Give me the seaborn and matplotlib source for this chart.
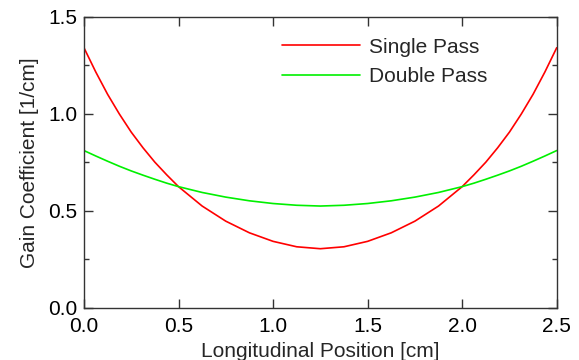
import seaborn as sns
import matplotlib.pyplot as plt
import numpy as np
import pandas as pd

# longitudinal positions (half profile, mirrored about 1.25 cm)
half_x = [0.0, 0.0625, 0.125, 0.1875, 0.25, 0.3125, 0.375, 0.4375, 0.5,
          0.625, 0.75, 0.875, 1.0, 1.125, 1.25]
single_half = [1.34, 1.215, 1.10, 0.998, 0.905, 0.824, 0.75, 0.685, 0.624,
               0.524, 0.446, 0.386, 0.342, 0.314, 0.304]
double_half = [0.81, 0.782, 0.755, 0.729, 0.705, 0.683, 0.662, 0.642, 0.624,
               0.594, 0.570, 0.551, 0.537, 0.528, 0.524]

position = half_x + [2.5 - v for v in half_x[-2::-1]]
single_pass = single_half + single_half[-2::-1]
double_pass = double_half + double_half[-2::-1]

df = pd.DataFrame({
    "x": position * 2,
    "y": single_pass + double_pass,
    "series": ["Single Pass"] * len(position) + ["Double Pass"] * len(position),
})

sns.set_style("ticks")
plt.rcParams['font.family'] = ['Liberation Sans', 'DejaVu Sans']
plt.rcParams['font.size'] = 15

fig = plt.figure(figsize=(5.79, 3.6), dpi=100)
ax = fig.add_axes([0.145, 0.1453, 0.8165, 0.8083])

sns.lineplot(data=df, x="x", y="y", hue="series",
             palette={"Single Pass": "#ff0000", "Double Pass": "#00f000"},
             linewidth=1.2, ax=ax, sort=False)

ax.set_xlim(0, 2.5)
ax.set_ylim(0, 1.5)
ax.set_xticks([0, 0.5, 1.0, 1.5, 2.0, 2.5])
ax.set_yticks([0, 0.5, 1.0, 1.5])
ax.set_yticks([0.25, 0.75, 1.25], minor=True)
ax.xaxis.set_major_formatter(plt.FormatStrFormatter('%.1f'))
ax.yaxis.set_major_formatter(plt.FormatStrFormatter('%.1f'))

for s in ax.spines.values():
    s.set_visible(True)
    s.set_color('#333333')
    s.set_linewidth(1.0)

ax.tick_params(axis='both', which='both', direction='in', top=True, right=True,
               color='#333333', labelsize=15, labelcolor='black')
ax.tick_params(which='major', length=6.5, width=1.0)
ax.tick_params(which='minor', length=3.6, width=1.0)
ax.tick_params(axis='x', pad=7)
ax.tick_params(axis='y', pad=5)

ax.set_xlabel("Longitudinal Position [cm]", fontsize=15, labelpad=4)
ax.set_ylabel("Gain Coefficient [1/cm]", fontsize=15, labelpad=6)

ax.legend(title=None, frameon=False, loc='upper left', bbox_to_anchor=(0.418, 0.928),
          borderaxespad=0, borderpad=0, handlelength=3.75, handletextpad=0.43,
          labelspacing=0.52, fontsize=15)

fig.savefig("out.png", dpi=100)
